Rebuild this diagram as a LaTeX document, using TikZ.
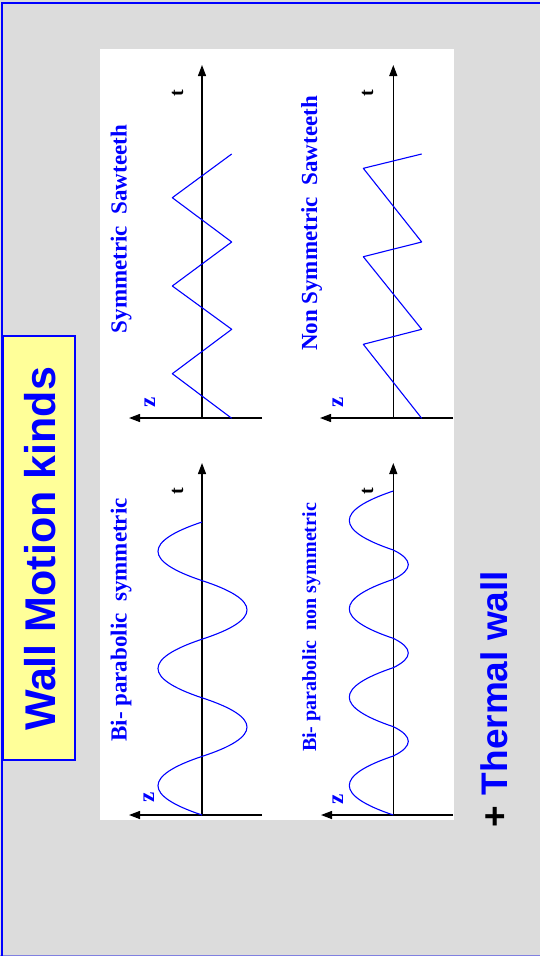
\documentclass[tikz,border=0pt]{standalone}
\usepackage{fontspec}
\setmainfont{Liberation Serif}
\newfontfamily\arialfont{Liberation Sans}
\usetikzlibrary{arrows.meta}
\definecolor{slidegray}{HTML}{DCDCDC}
\definecolor{boxyellow}{HTML}{FFFF99}
\definecolor{edgeblue}{HTML}{8080E0}
\tikzset{
  axisline/.style={black, line width=1.3pt, -{Triangle[length=11pt,width=8pt]}},
  wave/.style={blue, line width=1.1pt, line join=round},
  gtitle/.style={rotate=90, anchor=base, inner sep=0pt, text=blue, font=\bfseries\fontsize{23}{23}\selectfont},
  gtitlesmall/.style={gtitle, font=\bfseries\fontsize{20}{20}\selectfont},
  tlabel/.style={rotate=90, anchor=base, inner sep=0pt, text=black, font=\bfseries\fontsize{20}{20}\selectfont},
  zlabel/.style={rotate=90, anchor=base, inner sep=0pt, text=blue, font=\bfseries\fontsize{23}{23}\selectfont},
}
\begin{document}
\begin{tikzpicture}[x=1pt,y=-1pt]
\useasboundingbox (0,0) rectangle (540,956);
% slide background and frame
\fill[slidegray] (0,0) rectangle (540,956);
\draw[edgeblue, line width=1pt] (0,955.5) -- (540,955.5);
\draw[blue, line width=2pt] (2,960) -- (2,3) -- (545,3);
% white panel
\fill[white] (100,49) rectangle (454,820);
% title box
\node[draw=blue, line width=1.5pt, fill=boxyellow, minimum width=72pt, minimum height=424pt, inner sep=0pt] (titlebox) at (39,548) {};
\node[rotate=90, anchor=base, inner sep=0pt, text=blue, font=\arialfont\bfseries\fontsize{43}{43}\selectfont] (title) at (55,549) {Wall Motion kinds};
% thermal wall
\node[rotate=90, anchor=base, inner sep=0pt, text=blue, font=\arialfont\bfseries\fontsize{37}{37}\selectfont] (thermal) at (507,699) {\textcolor{black}{+} Thermal wall};

% ---------- top-left: symmetric sawteeth ----------
\coordinate (o1) at (202,418);
\coordinate (tt1) at (202,65);
\coordinate (zr1) at (262,418);
\coordinate (zt1) at (129,418);
\draw[axisline] (o1) -- (tt1);
\draw[axisline] (zr1) -- (zt1);
\draw[wave] (231.7,418.3) -- (172.3,373.7) -- (231.7,329.3) -- (172.3,286) -- (231.7,242) -- (172.3,197.7) -- (231.7,154);
\node[gtitle] (g1) at (126.5,229) {Symmetric\ \ Sawteeth};
\node[tlabel] (t1) at (183,93) {t};
\node[zlabel] (z1) at (155,402) {z};

% ---------- top-right: non symmetric sawteeth ----------
\coordinate (o2) at (393.3,418);
\coordinate (tt2) at (393.3,65);
\coordinate (zr2) at (453,418);
\coordinate (zt2) at (320,418);
\draw[axisline] (o2) -- (tt2);
\draw[axisline] (zr2) -- (zt2);
\draw[wave] (421.7,418.3) -- (363.3,344.3) -- (421.7,329.3) -- (363.3,256.7) -- (421.7,242) -- (363.3,168.3) -- (421.7,154);
\node[gtitle] (g2) at (317,223.5) {Non Symmetric\ \ Sawteeth};
\node[tlabel] (t2) at (373,93.5) {t};
\node[zlabel] (z2) at (343,402) {z};

% ---------- bottom-left: bi-parabolic symmetric ----------
\coordinate (o3) at (202,815);
\coordinate (tt3) at (202,463);
\coordinate (zr3) at (262,815);
\coordinate (zt3) at (129,815);
\draw[axisline] (o3) -- (tt3);
\draw[axisline] (zr3) -- (zt3);
\draw[wave] (202,815)
  .. controls (143.33,795.47) and (143.33,775.93) .. (202,756.4)
  .. controls (262,736.87) and (262,717.33) .. (202,697.8)
  .. controls (143.33,678.27) and (143.33,658.73) .. (202,639.2)
  .. controls (262,619.67) and (262,600.13) .. (202,580.6)
  .. controls (143.33,561.07) and (143.33,541.53) .. (202,522);
\node[gtitle] (g3) at (126.7,620) {Bi- parabolic\ \ symmetric};
\node[tlabel] (t3) at (183,491) {t};
\node[zlabel] (z3) at (154,797) {z};

% ---------- bottom-right: bi-parabolic non symmetric ----------
\coordinate (o4) at (393.3,815);
\coordinate (tt4) at (393.3,463);
\coordinate (zr4) at (453,815);
\coordinate (zt4) at (321,815);
\draw[axisline] (o4) -- (tt4);
\draw[axisline] (zr4) -- (zt4);
\draw[wave] (393.3,815)
  .. controls (334.63,795.33) and (334.63,775.67) .. (393.3,756)
  .. controls (413.3,746.22) and (413.3,736.44) .. (393.3,726.67)
  .. controls (334.63,707) and (334.63,687.33) .. (393.3,667.67)
  .. controls (413.3,657.89) and (413.3,648.11) .. (393.3,638.33)
  .. controls (334.63,618.67) and (334.63,599) .. (393.3,579.33)
  .. controls (413.3,569.55) and (413.3,559.78) .. (393.3,550)
  .. controls (334.63,530.33) and (334.63,510.67) .. (393.3,491);
\node[gtitlesmall] (g4) at (316,627.5) {Bi- parabolic\ \ non symmetric};
\node[tlabel] (t4) at (373,491) {t};
\node[zlabel] (z4) at (343,799) {z};
\end{tikzpicture}
\end{document}
